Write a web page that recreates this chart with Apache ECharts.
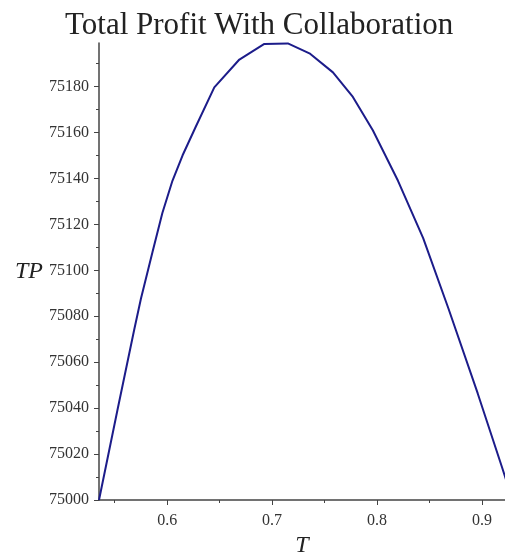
<!DOCTYPE html>
<html>
<head>
<meta charset="utf-8">
<script src="https://cdn.jsdelivr.net/npm/echarts@6/dist/echarts.min.js"></script>
<style>
  html, body { margin: 0; padding: 0; background: #fff; }
  #main { width: 505px; height: 556px; }
</style>
</head>
<body>
<div id="main"></div>
<script>
// values
var tValues = [0.535, 0.5525, 0.5685, 0.5749, 0.586, 0.5954, 0.605, 0.6146, 0.627, 0.6449, 0.6688,
  0.6926, 0.715, 0.7356, 0.758, 0.777, 0.796, 0.82, 0.844, 0.868, 0.896, 0.919, 0.925]
var tpValues = [75000, 75039, 75074, 75087.5, 75108, 75125, 75139, 75150, 75162.3, 75179.7, 75191.8,
  75198.6, 75198.8, 75194.5, 75186.2, 75175.5, 75161, 75139, 75114, 75083.5, 75046.4, 75014.5, 75006]
var xMajorTicks = [0.6, 0.7, 0.8, 0.9]
var xMinorTicks = [0.55, 0.65, 0.75, 0.85]
var yMajorTicks = [75000, 75020, 75040, 75060, 75080, 75100, 75120, 75140, 75160, 75180]
var yMinorTicks = [75010, 75030, 75050, 75070, 75090, 75110, 75130, 75150, 75170, 75190]

var points = tValues.map(function (t, i) { return [t, tpValues[i]] })

var axisColor = '#444'
var serif = '"Liberation Serif", "DejaVu Serif", serif'

var myChart = echarts.init(document.getElementById('main'))
var option = {
  animation: false,
  title: {
    text: 'Total Profit With Collaboration',
    left: 60,
    top: 5,
    textStyle: { fontFamily: serif, fontSize: 31, fontWeight: 'normal', color: '#222' }
  },
  grid: { left: 99, right: 0, top: 43, bottom: 56, containLabel: false, outerBoundsMode: 'none' },
  xAxis: [
    {
      type: 'value', min: 0.535, max: 0.922,
      name: 'T', nameLocation: 'middle', nameGap: 32,
      nameTextStyle: { fontFamily: serif, fontStyle: 'italic', fontSize: 24, color: '#222' },
      axisLine: { show: true, lineStyle: { color: axisColor, width: 1.5 } },
      axisTick: { show: true, customValues: xMajorTicks, length: 5, lineStyle: { color: axisColor } },
      axisLabel: { customValues: xMajorTicks, margin: 13, fontFamily: serif, fontSize: 16, color: '#333' },
      splitLine: { show: false }
    },
    {
      type: 'value', min: 0.535, max: 0.922, position: 'bottom',
      axisLine: { show: false },
      axisTick: { show: true, customValues: xMinorTicks, length: 3, lineStyle: { color: axisColor } },
      axisLabel: { show: false },
      splitLine: { show: false }
    }
  ],
  yAxis: [
    {
      type: 'value', min: 75000, max: 75199,
      name: 'TP', nameLocation: 'middle', nameRotate: 0, nameGap: 56,
      nameTextStyle: { fontFamily: serif, fontStyle: 'italic', fontSize: 24, color: '#222', align: 'right' },
      axisLine: { show: true, lineStyle: { color: axisColor, width: 1.5 } },
      axisTick: { show: true, customValues: yMajorTicks, length: 5, lineStyle: { color: axisColor } },
      axisLabel: {
        customValues: yMajorTicks, margin: 10, fontFamily: serif, fontSize: 16, color: '#333',
        formatter: function (v) { return String(v) }
      },
      splitLine: { show: false }
    },
    {
      type: 'value', min: 75000, max: 75199, position: 'left',
      axisLine: { show: false },
      axisTick: { show: true, customValues: yMinorTicks, length: 3, lineStyle: { color: axisColor } },
      axisLabel: { show: false },
      splitLine: { show: false }
    }
  ],
  series: [
    {
      type: 'line',
      xAxisIndex: 0,
      yAxisIndex: 0,
      data: points,
      showSymbol: false,
      smooth: false,
      clip: true,
      lineStyle: { color: '#1c1c8a', width: 2 }
    }
  ]
}
myChart.setOption(option)
</script>
</body>
</html>
